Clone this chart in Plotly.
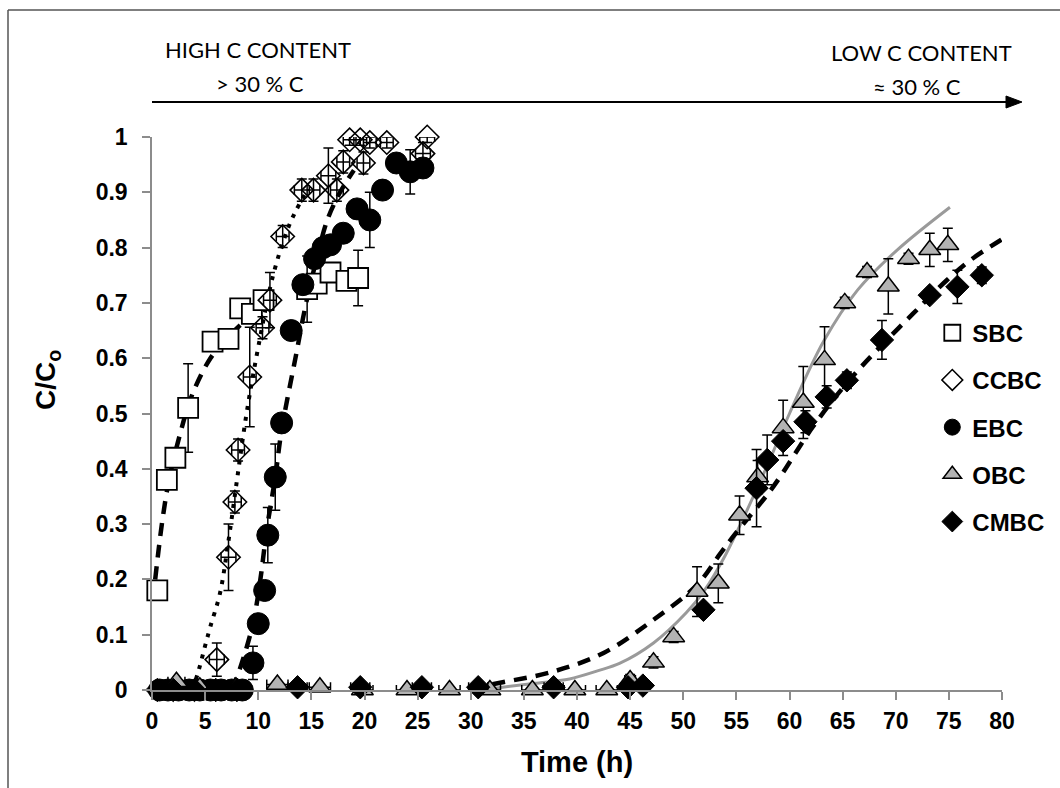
import plotly.graph_objects as go

# ---------------- data ----------------
sbc_x = [0.5, 1.4, 2.2, 3.4, 5.7, 7.2, 8.3, 9.4, 10.5, 14.6, 15.5, 16.8, 18.3, 19.4]
sbc_y = [0.18, 0.38, 0.42, 0.51, 0.63, 0.635, 0.69, 0.68, 0.705, 0.725, 0.735, 0.755, 0.74, 0.745]
sbc_err = [0, 0, 0, 0.08, 0, 0, 0, 0, 0, 0.06, 0, 0, 0, 0.05]

ccbc_x = [6.1, 7.2, 7.8, 8.1, 9.2, 10.4, 11.1, 12.3, 14.1, 15.2, 16.6, 17.4, 18.0, 18.6, 19.6, 19.9, 20.5, 22.1, 25.5, 25.9]
ccbc_y = [0.055, 0.24, 0.34, 0.434, 0.566, 0.655, 0.705, 0.82, 0.904, 0.904, 0.93, 0.904, 0.955, 0.995, 0.995, 0.953, 0.99, 0.99, 0.97, 1.0]
ccbc_yerr = [0.03, 0.06, 0.02, 0.02, 0.09, 0.02, 0.05, 0.02, 0.02, 0.02, 0.05, 0.02, 0.02, 0.01, 0.01, 0.02, 0.01, 0.01, 0.02, 0.01]
ccbc_xerr = [0.7, 0.7, 0.6, 0.6, 0.6, 0.6, 0.6, 0.6, 0.7, 0.6, 0.7, 0.6, 0.6, 0.6, 0.6, 0.6, 0.6, 0.6, 0.7, 0.7]

ebc_x = [0.7, 1.5, 2.5, 3.5, 4.5, 5.5, 6.5, 7.5, 8.5, 9.5, 10.0, 10.6, 10.9, 11.6, 12.2, 13.1, 14.2, 15.3, 16.1, 16.8, 18.0, 19.3, 20.5, 21.7, 23.0, 24.3, 25.5]
ebc_y = [0.0, 0.0, 0.0, 0.0, 0.0, 0.0, 0.0, 0.0, 0.0, 0.049, 0.12, 0.18, 0.28, 0.385, 0.483, 0.65, 0.733, 0.78, 0.80, 0.805, 0.826, 0.87, 0.85, 0.904, 0.953, 0.937, 0.944]
ebc_err = [0, 0, 0, 0, 0, 0, 0, 0, 0, 0.03, 0, 0, 0.05, 0.06, 0, 0, 0, 0, 0, 0, 0, 0, 0.05, 0, 0, 0.04, 0]

obc_x = [2.3, 4.5, 7.9, 11.8, 15.8, 19.8, 24.0, 28.0, 31.8, 35.8, 39.8, 42.8, 45.0, 47.2, 49.1, 51.3, 53.3, 55.3, 57.0, 59.4, 61.3, 63.3, 65.2, 67.3, 69.3, 71.2, 73.2, 74.9]
obc_y = [0.015, 0.005, 0.005, 0.01, 0.005, 0.0, 0.0, 0.0, 0.0, 0.0, 0.0, 0.0, 0.018, 0.05, 0.096, 0.178, 0.193, 0.316, 0.385, 0.474, 0.52, 0.597, 0.70, 0.756, 0.73, 0.78, 0.796, 0.805]
obc_yerr = [0, 0, 0, 0, 0, 0, 0, 0, 0, 0, 0, 0, 0.01, 0.01, 0.01, 0.045, 0.035, 0.035, 0.03, 0.05, 0.065, 0.06, 0.01, 0.01, 0.05, 0.01, 0.03, 0.03]
obc_xerr = [0.8, 0.8, 0.8, 1.0, 1.0, 1.0, 1.0, 1.0, 1.0, 1.0, 1.0, 1.0, 0.5, 0, 0, 0, 0, 0, 0, 0, 0, 0, 0, 0, 0, 0, 0, 0]

cmbc_x = [0.5, 2.0, 4.0, 6.0, 8.0, 13.7, 19.6, 25.4, 30.7, 37.8, 44.8, 46.2, 51.9, 56.9, 57.9, 59.4, 61.5, 63.5, 65.4, 68.7, 73.2, 75.8, 78.1]
cmbc_y = [0.0, 0.0, 0.0, 0.0, 0.0, 0.005, 0.005, 0.005, 0.005, 0.005, 0.005, 0.008, 0.145, 0.365, 0.416, 0.45, 0.485, 0.53, 0.56, 0.633, 0.714, 0.729, 0.75]
cmbc_yerr = [0, 0, 0, 0, 0, 0, 0, 0, 0, 0, 0, 0, 0, 0.07, 0.045, 0.01, 0.02, 0.02, 0.015, 0.035, 0.01, 0.03, 0.015]
cmbc_xerr = [0, 0, 0, 0, 0, 0.9, 0.9, 0.9, 0.9, 0.9, 0.5, 0.5, 0, 0, 0, 0, 0, 0, 0, 0, 0, 0, 0]

# fitted model curves
sbc_fit_x = [0.3, 0.6, 1.0, 1.6, 2.6, 3.8, 5.5, 7.0, 8.3]
sbc_fit_y = [0.20, 0.25, 0.31, 0.38, 0.46, 0.535, 0.60, 0.635, 0.66]

ccbc_fit_x = [3.8, 4.4, 5.0, 5.5, 6.4, 7.2, 8.0, 8.9, 10.0, 11.4, 12.7, 13.5, 14.5]
ccbc_fit_y = [0.0, 0.036, 0.08, 0.115, 0.175, 0.27, 0.38, 0.50, 0.62, 0.75, 0.83, 0.865, 0.9]

ebc_fit_x = [7.5, 8.3, 9.5, 10.2, 10.8, 11.6, 12.2, 13.6, 14.4, 15.5, 16.5, 17.7, 19.0]
ebc_fit_y = [0.0, 0.04, 0.12, 0.20, 0.29, 0.385, 0.47, 0.61, 0.69, 0.78, 0.85, 0.90, 0.94]

obc_fit_x = [31, 33, 36, 39.3, 42, 44, 47.2, 50.3, 52, 54, 56, 58, 60, 63.2, 66.4, 70.1, 75.1]
obc_fit_y = [0.0, 0.005, 0.012, 0.02, 0.035, 0.048, 0.085, 0.14, 0.18, 0.245, 0.325, 0.41, 0.5, 0.63, 0.723, 0.795, 0.873]

cmbc_fit_x = [30, 33, 37.7, 42.5, 47.2, 51.3, 53.5, 55, 57.9, 59.1, 62.2, 65.4, 68.5, 71.6, 74.8, 77, 80]
cmbc_fit_y = [0.003, 0.014, 0.033, 0.067, 0.127, 0.19, 0.247, 0.285, 0.353, 0.385, 0.476, 0.555, 0.62, 0.68, 0.741, 0.777, 0.815]

x_ticks = list(range(0, 85, 5))
y_ticks = [0, 0.1, 0.2, 0.3, 0.4, 0.5, 0.6, 0.7, 0.8, 0.9, 1]
y_ticktext = ["0", "0.1", "0.2", "0.3", "0.4", "0.5", "0.6", "0.7", "0.8", "0.9", "1"]

# ---------------- figure ----------------
FONT = "Liberation Sans, Arial, sans-serif"
fig = go.Figure()

def fit(x, y, color, width, dash):
    fig.add_trace(go.Scatter(x=x, y=y, mode="lines", showlegend=False, hoverinfo="skip",
                             line=dict(color=color, width=width, dash=dash, shape="spline", smoothing=1.0),
                             cliponaxis=False))

fit(sbc_fit_x, sbc_fit_y, "black", 4.5, "13px,9px")
fit(ccbc_fit_x, ccbc_fit_y, "black", 4, "4px,7px")
fit(ebc_fit_x, ebc_fit_y, "black", 4.5, "13px,9px")
fit(obc_fit_x, obc_fit_y, "#9a9a9a", 3, "solid")
fit(cmbc_fit_x, cmbc_fit_y, "black", 4.5, "13px,9px")

EB = dict(color="black", thickness=1.5, width=5)

fig.add_trace(go.Scatter(
    x=sbc_x, y=sbc_y, mode="markers", name="SBC", legendgroup="a", cliponaxis=False,
    marker=dict(symbol="square", size=20, color="white", line=dict(color="black", width=1.8)),
    error_y=dict(type="data", array=sbc_err, **EB)))
fig.add_trace(go.Scatter(
    x=ccbc_x, y=ccbc_y, mode="markers", name="CCBC", legendgroup="b", cliponaxis=False,
    marker=dict(symbol="diamond-open", size=18, color="black", line=dict(color="black", width=1.6)),
    error_y=dict(type="data", array=ccbc_yerr, **EB),
    error_x=dict(type="data", array=ccbc_xerr, **EB)))
fig.add_trace(go.Scatter(
    x=ebc_x, y=ebc_y, mode="markers", name="EBC", legendgroup="c", cliponaxis=False,
    marker=dict(symbol="circle", size=22, color="black", line=dict(color="black", width=1)),
    error_y=dict(type="data", array=ebc_err, **EB)))
fig.add_trace(go.Scatter(
    x=obc_x, y=obc_y, mode="markers", name="OBC", legendgroup="d", cliponaxis=False,
    marker=dict(symbol="triangle-up", size=19, color="#b3b3b3", line=dict(color="black", width=1.5)),
    error_y=dict(type="data", array=obc_yerr, **EB),
    error_x=dict(type="data", array=obc_xerr, **EB)))
fig.add_trace(go.Scatter(
    x=cmbc_x, y=cmbc_y, mode="markers", name="CMBC", legendgroup="e", cliponaxis=False,
    marker=dict(symbol="diamond", size=18, color="black", line=dict(color="black", width=1)),
    error_y=dict(type="data", array=cmbc_yerr, **EB),
    error_x=dict(type="data", array=cmbc_xerr, **EB)))

axis_common = dict(showline=True, linecolor="#8c8c8c", linewidth=1.5, ticks="outside",
                   tickcolor="#8c8c8c", ticklen=8, tickwidth=1.5, showgrid=False, zeroline=False,
                   tickfont=dict(family=FONT, size=23, color="black", weight="bold"))

fig.update_layout(
    width=1060, height=788,
    margin=dict(l=152, r=58, t=137, b=98, autoexpand=False),
    paper_bgcolor="white", plot_bgcolor="white",
    xaxis=dict(range=[0, 80], tickvals=x_ticks, ticklabelstandoff=2, **axis_common,
               title=dict(text="Time (h)", font=dict(family=FONT, size=29, color="black", weight="bold"),
                          standoff=18)),
    yaxis=dict(range=[0, 1], tickvals=y_ticks, ticktext=y_ticktext, ticklabelstandoff=10, **axis_common),
    legend=dict(x=0.918, y=0.686, xanchor="left", yanchor="top", bgcolor="rgba(0,0,0,0)",
                font=dict(family=FONT, size=24, color="black", weight="bold"),
                tracegroupgap=13, itemwidth=30),
    showlegend=True,
)

# y-axis title
fig.add_annotation(xref="paper", yref="paper", x=(47 - 152) / 850, y=(690 - 380) / 553,
                   text="C/C<sub>o</sub>", textangle=-90, showarrow=False,
                   xanchor="center", yanchor="middle",
                   font=dict(family=FONT, size=28, color="black", weight="bold"))

TFONT = dict(family="Lato, Open Sans, sans-serif", size=22, color="black")
def top_text(cx, cy, txt):
    fig.add_annotation(xref="paper", yref="paper", x=(cx - 152) / 850, y=(690 - cy) / 553,
                       text=txt, showarrow=False, xanchor="center", yanchor="middle", font=TFONT)

top_text(258, 50, "HIGH C CONTENT")
top_text(260, 83, "&gt; 30 % C")
top_text(921, 52, "LOW C CONTENT")
top_text(917, 87, "≈ 30 % C")

def px(xp):
    return (xp - 152) / 850

def py(yp):
    return (690 - yp) / 553

# arrow: shaft and head
fig.add_shape(type="line", xref="paper", yref="paper", x0=px(152), x1=px(1010),
              y0=py(102), y1=py(102), line=dict(color="black", width=2))
fig.add_shape(type="path", xref="paper", yref="paper",
              path=f"M {px(1006)} {py(96)} L {px(1022)} {py(102)} L {px(1006)} {py(108)} Z",
              fillcolor="black", line=dict(color="black", width=1))
# outer frame lines (top and left)
fig.add_shape(type="line", xref="paper", yref="paper", x0=px(8), x1=px(1060),
              y0=py(10), y1=py(10), line=dict(color="#555555", width=1.5))
fig.add_shape(type="line", xref="paper", yref="paper", x0=px(8), x1=px(8),
              y0=py(10), y1=py(790), line=dict(color="#555555", width=1.5))

fig.write_html("out.html")
